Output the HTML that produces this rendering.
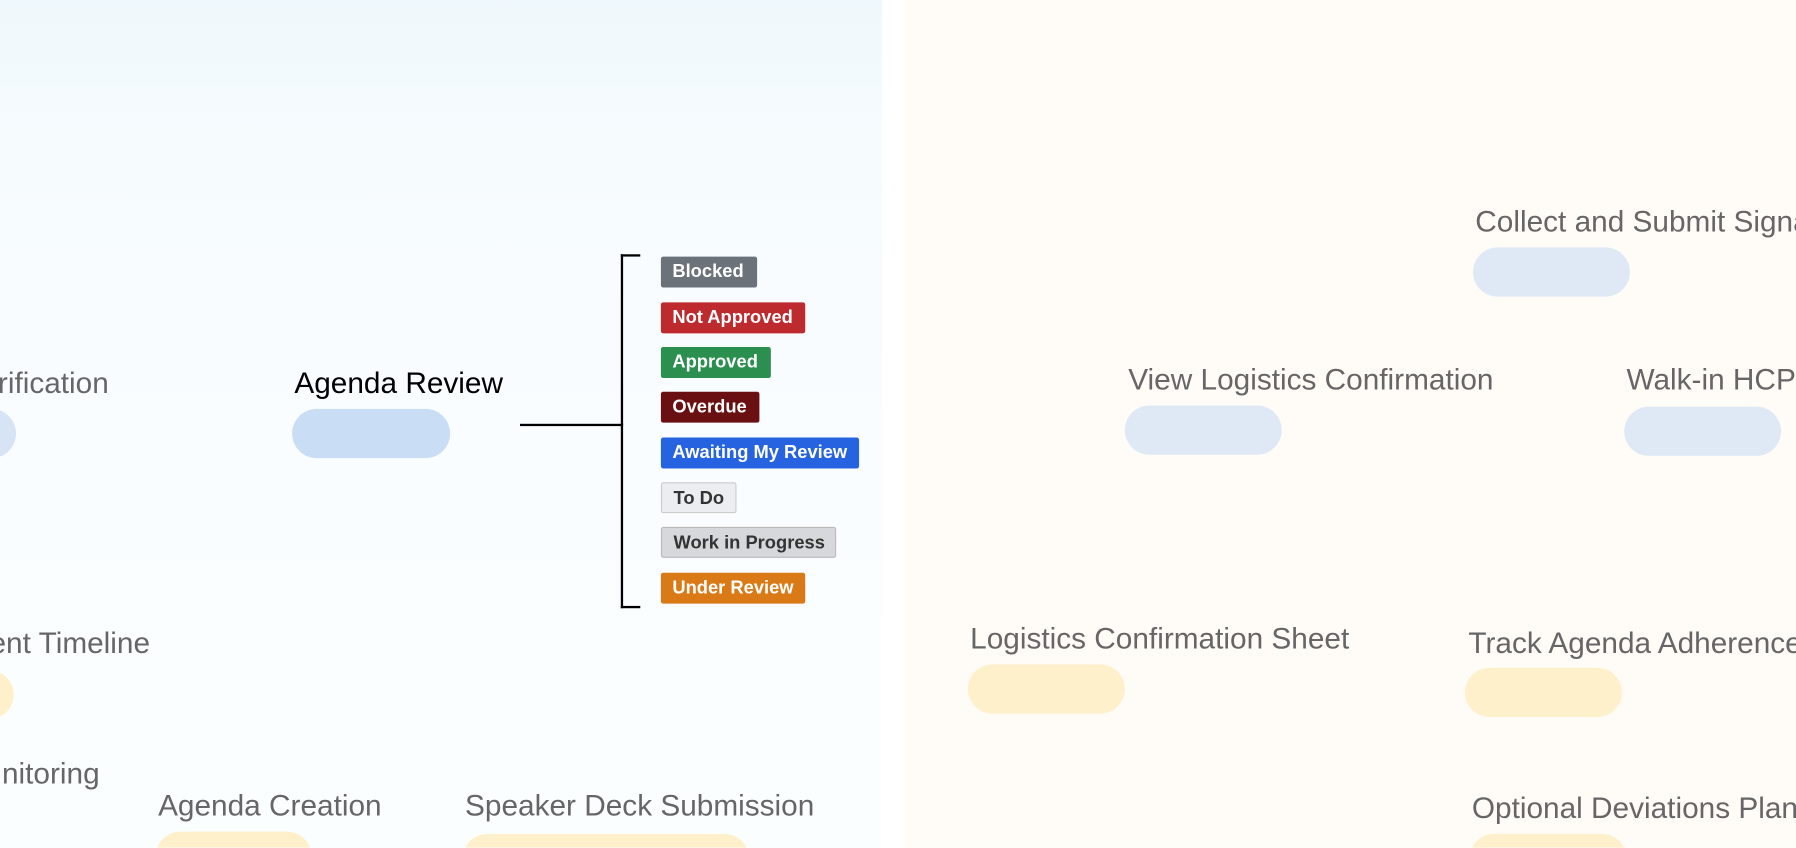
<!DOCTYPE html>
<html><head><meta charset="utf-8"><style>
html,body{margin:0;padding:0;width:1796px;height:848px;overflow:hidden;background:#fff;}
#w{position:absolute;left:0;top:0;width:1568px;height:740px;overflow:hidden;transform:scale(1.14541);transform-origin:0 0;font-family:"Liberation Sans",sans-serif;}
.lp{position:absolute;left:0;top:0;width:770px;height:740px;background:linear-gradient(#eff8fc 0,#f6fbfe 120px,#fafdff 400px,#fbfeff 740px);}
.rp{position:absolute;left:790px;top:0;width:778px;height:740px;background:#fffbf6;}
.t{position:absolute;font-size:26px;color:#666;white-space:nowrap;line-height:1;}
.r{text-align:right;}
.p{position:absolute;height:43px;border-radius:22px;}
.b{background:#dfe9f6}.y{background:#fff0cc}
.g{position:absolute;left:577px;height:27px;border-radius:2px;font-size:16px;font-weight:bold;color:#fff;line-height:27px;padding-left:10px;box-sizing:border-box;}
</style></head><body><div id="w">
<div class="lp"></div><div class="rp"></div>

<div class="t r" style="left:-300px;top:321px;width:395px">rification</div>
<div class="p b" style="left:-30px;top:357px;width:44px;background:#d6e4f6"></div>
<div class="t r" style="left:-300px;top:548px;width:431px">ent Timeline</div>
<div class="p y" style="left:-32px;top:585px;width:44px"></div>
<div class="t r" style="left:-300px;top:662px;width:387px">nitoring</div>
<div class="t" style="left:138px;top:690px">Agenda Creation</div>
<div class="p y" style="left:136px;top:726px;width:136px"></div>
<div class="t" style="left:406px;top:690px">Speaker Deck Submission</div>
<div class="p y" style="left:404px;top:728px;width:250px"></div>

<div class="t" style="left:257px;top:321px;color:#000">Agenda Review</div>
<div class="p" style="left:255px;top:357px;width:138px;background:#c9ddf5"></div>
<div style="position:absolute;left:454px;top:370px;width:90px;height:2px;background:#000"></div>
<div style="position:absolute;left:542px;top:222px;width:15px;height:305px;border:2px solid #000;border-right:none;"></div>

<div class="g" style="top:224px;width:84px;background:#6c727a">Blocked</div>
<div class="g" style="top:264px;width:126px;background:#bd2b2f">Not Approved</div>
<div class="g" style="top:303px;width:96px;background:#2a8f4f">Approved</div>
<div class="g" style="top:342px;width:86px;background:#6b1012">Overdue</div>
<div class="g" style="top:382px;width:173px;background:#2563e0">Awaiting My Review</div>
<div class="g" style="top:421px;width:66px;background:#ebedf0;color:#333;border:1px solid #ccc">To Do</div>
<div class="g" style="top:460px;width:153px;background:#d6d8db;color:#333;border:1px solid #bbb">Work in Progress</div>
<div class="g" style="top:500px;width:126px;background:#d97a16">Under Review</div>

<div class="t" style="left:1288px;top:180px">Collect and Submit Signa</div>
<div class="p b" style="left:1286px;top:216px;width:137px"></div>
<div class="t" style="left:985px;top:318px">View Logistics Confirmation</div>
<div class="p b" style="left:982px;top:354px;width:137px"></div>
<div class="t" style="left:1420px;top:318px">Walk-in HCP</div>
<div class="p b" style="left:1418px;top:355px;width:137px"></div>
<div class="t" style="left:847px;top:544px">Logistics Confirmation Sheet</div>
<div class="p y" style="left:845px;top:580px;width:137px"></div>
<div class="t" style="left:1282px;top:548px">Track Agenda Adherence</div>
<div class="p y" style="left:1279px;top:583px;width:137px"></div>
<div class="t" style="left:1285px;top:692px">Optional Deviations Plan</div>
<div class="p y" style="left:1283px;top:728px;width:137px"></div>
</div></body></html>
